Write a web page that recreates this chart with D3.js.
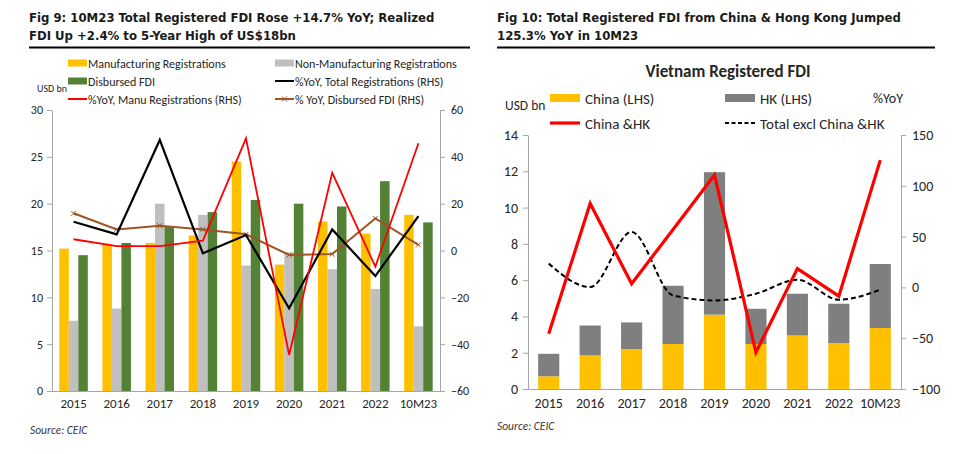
<!DOCTYPE html>
<meta charset="utf-8">
<style>
body { margin: 0; background: #fff; }
text { font-family: Carlito, Lato, sans-serif; fill: #262626; }
.fig { font-family: "DejaVu Sans Condensed", "DejaVu Sans", sans-serif; font-weight: bold; font-size: 13px; fill: #1a1a1a; }
.src { font-style: italic; font-size: 11.5px; fill: #3a3a3a; }
.axis path, .axis line { stroke: #a6a6a6; }
</style>
<head>
    <title>Vietnam FDI</title>
</head>

<script src="https://d3js.org/d3.v7.min.js"></script>

<div id="chart"></div>

<script>
// ---- data: Fig 9 ----
var years = ["2015", "2016", "2017", "2018", "2019", "2020", "2021", "2022", "10M23"];
var manuReg = [15.2, 15.7, 15.8, 16.6, 24.5, 13.5, 18.1, 16.8, 18.8];
var nonManuReg = [7.5, 8.8, 20.0, 18.8, 13.4, 14.8, 13.0, 10.9, 6.9];
var disbursed = [14.5, 15.8, 17.5, 19.1, 20.4, 20.0, 19.7, 22.4, 18.0];
var yoyTotalReg = [12.3, 6.9, 47.2, -1.2, 6.6, -24.7, 9.0, -10.9, 14.7];
var yoyManuReg = [4.8, 1.9, 1.9, 4.2, 47.9, -44.6, 33.2, -6.9, 45.8];
var yoyDisbursed = [15.9, 9.0, 10.6, 9.0, 6.9, -1.9, -1.5, 13.7, 2.4];
var leftTicks9 = [0, 5, 10, 15, 20, 25, 30];
var rightTicks9 = [-60, -40, -20, 0, 20, 40, 60];

// ---- data: Fig 10 ----
var china = [0.7, 1.85, 2.2, 2.48, 4.1, 2.48, 2.95, 2.53, 3.36];
var hk = [1.24, 1.65, 1.47, 3.21, 7.85, 1.94, 2.3, 2.17, 3.53];
var yoyChinaHK = [-45.7, 82.6, 3.6, 57.0, 110.6, -63.9, 18.5, -8.6, 125.3];
var yoyExcl = [23.4, 0.3, 54.6, -7.9, -12.8, -6.2, 7.6, -12.1, -2.3];
var leftTicks10 = [0, 2, 4, 6, 8, 10, 12, 14];
var rightTicks10 = [-100, -50, 0, 50, 100, 150];

var svg = d3.select("#chart")
  .append("svg")
    .attr("width", 955)
    .attr("height", 454);

// headline + rule above each panel
function heading(x0, x1, lines) {
  lines.forEach(function(t, i) {
    svg.append("text").attr("class", "fig")
      .attr("x", x0).attr("y", 22 + i * 18).text(t);
  });
  svg.append("line")
    .attr("x1", x0).attr("x2", x1).attr("y1", 47.5).attr("y2", 47.5)
    .attr("stroke", "#000").attr("stroke-width", 2);
}

function styleAxis(g, size) {
  g.attr("class", "axis");
  g.selectAll("text").style("font-size", size + "px").attr("fill", "#262626");
}

// ================= Fig 9 =================
heading(29, 470, ["Fig 9: 10M23 Total Registered FDI Rose +14.7% YoY; Realized",
                  "FDI Up +2.4% to 5-Year High of US$18bn"]);

var p9 = {left: 52, right: 440, top: 110, bottom: 391};

var x9 = d3.scaleBand().domain(years).range([p9.left, p9.right]);
var keys9 = ["manu", "nonManu", "disb"];
var x9in = d3.scaleBand().domain(keys9).range([0, x9.bandwidth()]).paddingOuter(0.77);
var y9 = d3.scaleLinear().domain([0, 30]).range([p9.bottom, p9.top]);
var y9r = d3.scaleLinear().domain([-60, 60]).range([p9.bottom, p9.top]);

var barData9 = years.map(function(yr, i) {
  return {year: yr, vals: [
    {key: "manu", v: manuReg[i]},
    {key: "nonManu", v: nonManuReg[i]},
    {key: "disb", v: disbursed[i]}]};
});
var col9 = {manu: "#FFC000", nonManu: "#BFBFBF", disb: "#548235"};

svg.append("g").selectAll("g")
  .data(barData9).enter().append("g")
    .attr("transform", function(d) { return "translate(" + x9(d.year) + ",0)"; })
  .selectAll("rect")
  .data(function(d) { return d.vals; }).enter().append("rect")
    .attr("x", function(d) { return x9in(d.key); })
    .attr("y", function(d) { return y9(d.v); })
    .attr("width", x9in.bandwidth())
    .attr("height", function(d) { return y9(0) - y9(d.v); })
    .attr("fill", function(d) { return col9[d.key]; });

var gx9 = svg.append("g")
  .attr("transform", "translate(0," + p9.bottom + ")")
  .call(d3.axisBottom(x9).tickSize(0).tickSizeOuter(0).tickPadding(8));
styleAxis(gx9, 13);

var gy9 = svg.append("g")
  .attr("transform", "translate(" + p9.left + ",0)")
  .call(d3.axisLeft(y9).tickValues(leftTicks9).tickSize(5).tickSizeOuter(0).tickPadding(4));
styleAxis(gy9, 12);

var gy9r = svg.append("g")
  .attr("transform", "translate(" + p9.right + ",0)")
  .call(d3.axisRight(y9r).tickValues(rightTicks9).tickSize(5).tickSizeOuter(0).tickPadding(6));
styleAxis(gy9r, 12);

function cx9(i) { return x9(years[i]) + x9.bandwidth() / 2; }
var line9 = d3.line()
  .x(function(d, i) { return cx9(i); })
  .y(function(d) { return y9r(d); });

svg.append("path").datum(yoyDisbursed)
  .attr("d", line9).attr("fill", "none")
  .attr("stroke", "#9C5525").attr("stroke-width", 2);
svg.append("g").selectAll("path")
  .data(yoyDisbursed).enter().append("path")
    .attr("d", d3.symbol(d3.symbolTimes, 18))
    .attr("transform", function(d, i) { return "translate(" + cx9(i) + "," + y9r(d) + ")"; })
    .attr("stroke", "#9C5525").attr("stroke-width", 1).attr("fill", "none");

svg.append("path").datum(yoyTotalReg)
  .attr("d", line9).attr("fill", "none")
  .attr("stroke", "#000").attr("stroke-width", 2.2);

svg.append("path").datum(yoyManuReg)
  .attr("d", line9).attr("fill", "none")
  .attr("stroke", "#FF0000").attr("stroke-width", 1.8);

// legend
var leg9 = [
  {label: "Manufacturing Registrations", type: "box", c: "#FFC000", x: 68, y: 63},
  {label: "Non-Manufacturing Registrations", type: "box", c: "#BFBFBF", x: 275, y: 63},
  {label: "Disbursed FDI", type: "box", c: "#548235", x: 68, y: 81},
  {label: "%YoY, Total Registrations (RHS)", type: "line", c: "#000", x: 275, y: 81},
  {label: "%YoY, Manu Registrations (RHS)", type: "line", c: "#FF0000", x: 68, y: 99},
  {label: "% YoY, Disbursed FDI (RHS)", type: "mark", c: "#9C5525", x: 275, y: 99}
];
var lg9 = svg.append("g").selectAll("g").data(leg9).enter().append("g")
  .attr("transform", function(d) { return "translate(" + d.x + "," + d.y + ")"; });
lg9.filter(function(d) { return d.type == "box"; }).append("rect")
  .attr("x", 0).attr("y", -3.5).attr("width", 19).attr("height", 7)
  .attr("fill", function(d) { return d.c; });
lg9.filter(function(d) { return d.type != "box"; }).append("line")
  .attr("x1", 0).attr("x2", 19).attr("stroke-width", 2)
  .attr("stroke", function(d) { return d.c; });
lg9.filter(function(d) { return d.type == "mark"; }).append("path")
  .attr("d", d3.symbol(d3.symbolTimes, 18))
  .attr("transform", "translate(9.5,0)")
  .attr("stroke", function(d) { return d.c; }).attr("fill", "none");
lg9.append("text")
  .attr("x", 20).attr("y", 4.5)
  .style("font-size", "12px")
  .text(function(d) { return d.label; });

svg.append("text").attr("x", 37).attr("y", 92).style("font-size", "10px").text("USD bn");
svg.append("text").attr("class", "src").attr("x", 30).attr("y", 434).text("Source: CEIC");

// ================= Fig 10 =================
heading(497, 935, ["Fig 10: Total Registered FDI from China & Hong Kong Jumped",
                   "125.3% YoY in 10M23"]);

var p10 = {left: 528, right: 901, top: 135, bottom: 389};

var x10 = d3.scaleBand().domain(years).range([p10.left, p10.right])
  .paddingInner(0.49).paddingOuter(0.245);
var y10 = d3.scaleLinear().domain([0, 14]).range([p10.bottom, p10.top]);
var y10r = d3.scaleLinear().domain([-100, 150]).range([p10.bottom, p10.top]);

var stack10 = d3.stack().keys(["china", "hk"])(
  years.map(function(yr, i) { return {year: yr, china: china[i], hk: hk[i]}; }));
var col10 = {china: "#FFC000", hk: "#7F7F7F"};

svg.append("g").selectAll("g")
  .data(stack10).enter().append("g")
    .attr("fill", function(d) { return col10[d.key]; })
  .selectAll("rect")
  .data(function(d) { return d; }).enter().append("rect")
    .attr("x", function(d) { return x10(d.data.year); })
    .attr("y", function(d) { return y10(d[1]); })
    .attr("width", x10.bandwidth())
    .attr("height", function(d) { return y10(d[0]) - y10(d[1]); });

var gx10 = svg.append("g")
  .attr("transform", "translate(0," + p10.bottom + ")")
  .call(d3.axisBottom(x10).tickSize(0).tickSizeOuter(0).tickPadding(9));
styleAxis(gx10, 14);

var gy10 = svg.append("g")
  .attr("transform", "translate(" + p10.left + ",0)")
  .call(d3.axisLeft(y10).tickValues(leftTicks10).tickSize(5).tickSizeOuter(0).tickPadding(5));
styleAxis(gy10, 14);

var gy10r = svg.append("g")
  .attr("transform", "translate(" + p10.right + ",0)")
  .call(d3.axisRight(y10r).tickValues(rightTicks10).tickSize(5).tickSizeOuter(0).tickPadding(6));
styleAxis(gy10r, 14);

function cx10(i) { return x10(years[i]) + x10.bandwidth() / 2; }

svg.append("path").datum(yoyExcl)
  .attr("d", d3.line().curve(d3.curveMonotoneX)
    .x(function(d, i) { return cx10(i); })
    .y(function(d) { return y10r(d); }))
  .attr("fill", "none").attr("stroke", "#000")
  .attr("stroke-width", 2).attr("stroke-dasharray", "5,3");

svg.append("path").datum(yoyChinaHK)
  .attr("d", d3.line()
    .x(function(d, i) { return cx10(i); })
    .y(function(d) { return y10r(d); }))
  .attr("fill", "none").attr("stroke", "#FF0000").attr("stroke-width", 3.2);

svg.append("text").attr("x", 728).attr("y", 77).attr("text-anchor", "middle")
  .style("font-size", "17px").style("font-weight", "bold").text("Vietnam Registered FDI");

var leg10 = [
  {label: "China (LHS)", type: "box", c: "#FFC000", x: 550, y: 98},
  {label: "HK (LHS)", type: "box", c: "#7F7F7F", x: 725, y: 98},
  {label: "China &HK", type: "line", c: "#FF0000", x: 550, y: 123},
  {label: "Total excl China &HK", type: "dash", c: "#000", x: 725, y: 123}
];
var lg10 = svg.append("g").selectAll("g").data(leg10).enter().append("g")
  .attr("transform", function(d) { return "translate(" + d.x + "," + d.y + ")"; });
lg10.filter(function(d) { return d.type == "box"; }).append("rect")
  .attr("x", 0).attr("y", -4).attr("width", 30).attr("height", 8)
  .attr("fill", function(d) { return d.c; });
lg10.filter(function(d) { return d.type == "line"; }).append("line")
  .attr("x1", 0).attr("x2", 30).attr("stroke-width", 3.2)
  .attr("stroke", function(d) { return d.c; });
lg10.filter(function(d) { return d.type == "dash"; }).append("line")
  .attr("x1", 0).attr("x2", 30).attr("stroke-width", 2).attr("stroke-dasharray", "4,2.5")
  .attr("stroke", function(d) { return d.c; });
lg10.append("text")
  .attr("x", 35).attr("y", 5.5)
  .style("font-size", "15px")
  .text(function(d) { return d.label; });

svg.append("text").attr("x", 505).attr("y", 110).style("font-size", "13.5px").text("USD bn");
svg.append("text").attr("x", 873).attr("y", 103).style("font-size", "14px").text("%YoY");
svg.append("text").attr("class", "src").attr("x", 497).attr("y", 430).text("Source: CEIC");
</script>
